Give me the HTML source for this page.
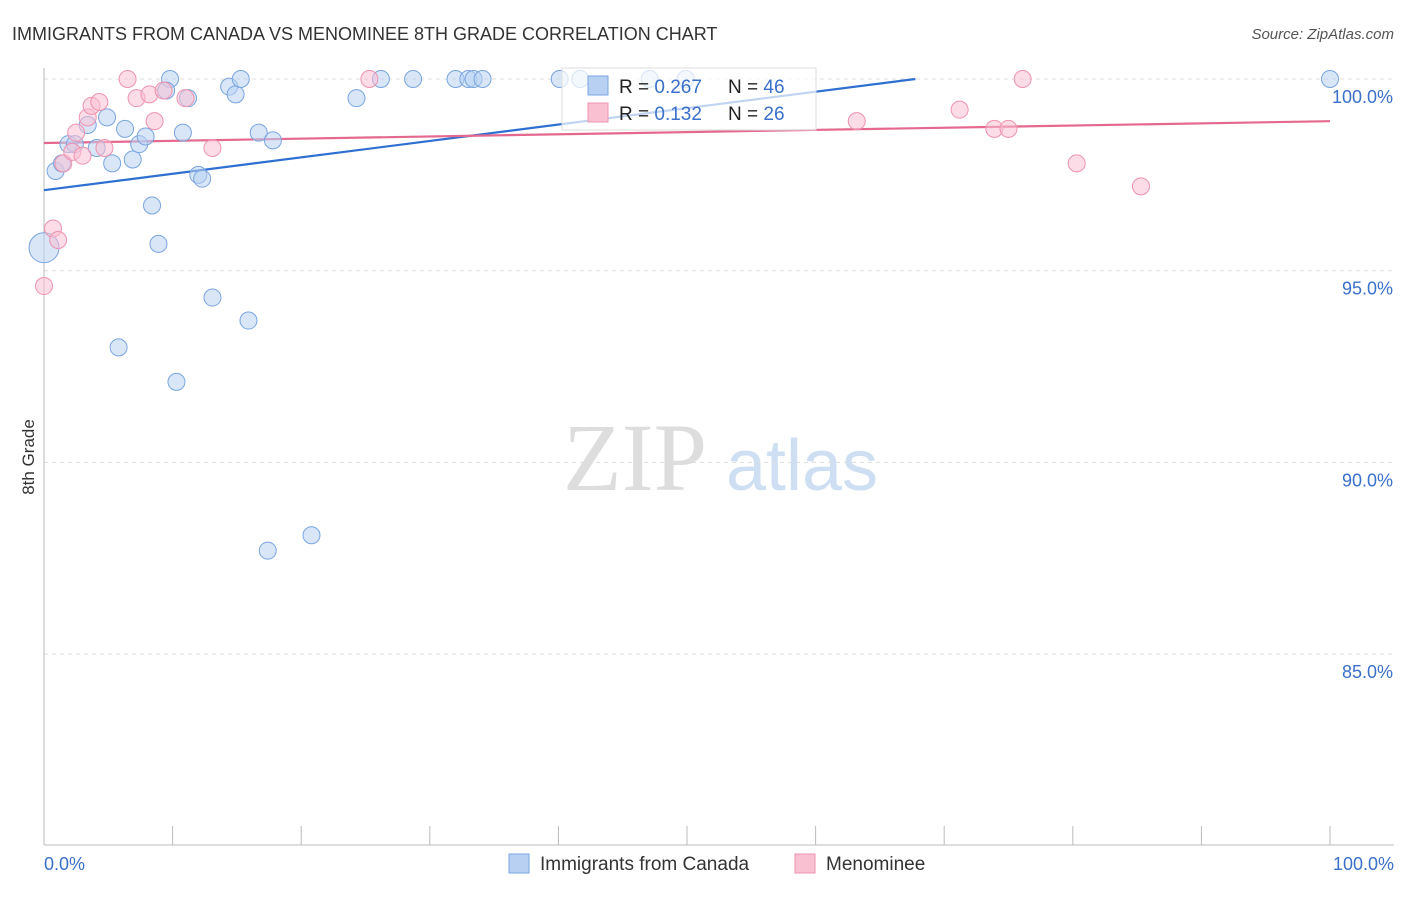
<!DOCTYPE html>
<html><head><meta charset="utf-8"><style>
body{margin:0;background:#fff;font-family:"Liberation Sans",sans-serif;}
</style></head><body>
<svg id="chart" width="1406" height="892" xmlns="http://www.w3.org/2000/svg" style="font-family:'Liberation Sans',sans-serif">
<text x="12" y="40" font-size="18" fill="#333">IMMIGRANTS FROM CANADA VS MENOMINEE 8TH GRADE CORRELATION CHART</text>
<text x="1394" y="39" font-size="15" fill="#555" text-anchor="end" font-style="italic">Source: ZipAtlas.com</text>
<text x="34" y="457" font-size="17" fill="#333" text-anchor="middle" transform="rotate(-90 34 457)">8th Grade</text>
<g>
<text x="635" y="490" font-size="96" fill="#ddd" text-anchor="middle" font-family="Liberation Serif,serif">ZIP</text>
<text x="802" y="490" font-size="72" fill="#cfdff3" text-anchor="middle">atlas</text>
</g>
<g id="grid"></g><g id="axes"></g><g id="lines"></g><g id="pts"></g>
<g>
<rect x="562" y="68" width="254" height="62" fill="#fff" fill-opacity="0.7" stroke="#ddd"/>
<rect x="588" y="76" width="20" height="19" fill="#b8d1f3" stroke="#7aa5e0"/>
<rect x="588" y="103" width="20" height="19" fill="#f9c0d2" stroke="#ee93b0"/>
<text x="619" y="93" font-size="19" fill="#222">R = <tspan fill="#3a70c9">0.267</tspan></text>
<text x="728" y="93" font-size="19" fill="#222">N = <tspan fill="#3a70c9">46</tspan></text>
<text x="619" y="120" font-size="19" fill="#222">R = <tspan fill="#3a70c9"> 0.132</tspan></text>
<text x="728" y="120" font-size="19" fill="#222">N = <tspan fill="#3a70c9">26</tspan></text>
</g>
<g>
<rect x="509" y="854" width="20" height="19" fill="#b8d1f3" stroke="#7aa5e0"/>
<text x="540" y="870" font-size="19" fill="#333">Immigrants from Canada</text>
<rect x="795" y="854" width="20" height="19" fill="#f9c0d2" stroke="#ee93b0"/>
<text x="826" y="870" font-size="19" fill="#333">Menominee</text>
</g>
</svg>
<script>
const yTicks=[100,95,90,85];
const yTickLabels=["100.0%","95.0%","90.0%","85.0%"];
const blueX=[0.9,0,1.9,1.4,2.4,3.4,4.1,4.9,5.3,6.3,6.9,7.4,7.9,8.4,8.9,5.8,9.8,9.5,10.8,11.2,12.0,12.3,13.1,10.3,14.4,14.9,15.3,15.9,16.7,17.8,17.4,20.8,24.3,26.2,28.7,32.0,33.0,33.4,34.1,40.1,41.7,47.1,49.9,100];
const blueY=[97.6,95.6,98.3,97.8,98.3,98.8,98.2,99.0,97.8,98.7,97.9,98.3,98.5,96.7,95.7,93.0,100,99.7,98.6,99.5,97.5,97.4,94.3,92.1,99.8,99.6,100,93.7,98.6,98.4,87.7,88.1,99.5,100,100,100,100,100,100,100,100,100,100,100];
const pinkX=[0,0.7,1.1,1.5,2.2,2.5,3.0,3.4,3.7,4.3,4.7,6.5,7.2,8.2,8.6,9.3,11.0,13.1,25.3,63.2,71.2,73.9,75.0,76.1,80.3,85.3];
const pinkY=[94.6,96.1,95.8,97.8,98.1,98.6,98.0,99.0,99.3,99.4,98.2,100,99.5,99.6,98.9,99.7,99.5,98.2,100,98.9,99.2,98.7,98.7,100,97.8,97.2];
const blueTrend=[97.1,0.0428];
const pinkTrend=[98.33,0.0057];
const sx=v=>44+v*12.86, sy=v=>79+(100-v)*38.34;
const NS="http://www.w3.org/2000/svg";
function mk(t,a,p){const e=document.createElementNS(NS,t);for(const k in a)e.setAttribute(k,a[k]);document.getElementById(p).appendChild(e);return e;}
yTicks.forEach((t,i)=>{
 const g=mk('line',{x1:44,x2:1394,y1:sy(t),y2:sy(t),stroke:'#ddd','stroke-dasharray':'4,4'},'grid');
 
 
 const l=mk('text',{x:1393,y:sy(t)+24,'font-size':18,fill:'#3a70c9','text-anchor':'end'},'axes');l.textContent=yTickLabels[i];
 
 
});
mk('line',{x1:44,x2:44,y1:68,y2:845,stroke:'#bbb'},'axes');
mk('line',{x1:44,x2:1394,y1:845,y2:845,stroke:'#bbb'},'axes');
for(let i=0;i<=10;i++){const t=mk('line',{x1:sx(i*10),x2:sx(i*10),y1:826,y2:845,stroke:'#bbb'},'axes');
 
 }
const x0=mk('text',{x:44,y:870,'font-size':18,fill:'#3a70c9'},'axes');x0.textContent='0.0%';


const x1=mk('text',{x:1394,y:870,'font-size':18,fill:'#3a70c9','text-anchor':'end'},'axes');x1.textContent='100.0%';


blueX.forEach((x,i)=>{const c=mk('circle',{cx:sx(x),cy:sy(blueY[i]),r:x===0?15:8.5,fill:'#b8d1f3','fill-opacity':0.55,stroke:'#7aa5e0','stroke-width':1},'pts');
 
 });
pinkX.forEach((x,i)=>{const c=mk('circle',{cx:sx(x),cy:sy(pinkY[i]),r:8.5,fill:'#f9c0d2','fill-opacity':0.55,stroke:'#ee93b0','stroke-width':1},'pts');
 
 });
const bEnd=(100-blueTrend[0])/blueTrend[1];
const bl=mk('line',{x1:sx(0),y1:sy(blueTrend[0]),x2:sx(bEnd),y2:sy(100),stroke:'#2f6fd1','stroke-width':2.2},'lines');


const pl=mk('line',{x1:sx(0),y1:sy(pinkTrend[0]),x2:sx(100),y2:sy(pinkTrend[0]+100*pinkTrend[1]),stroke:'#e5688f','stroke-width':2.2},'lines');


</script>
</body></html>
